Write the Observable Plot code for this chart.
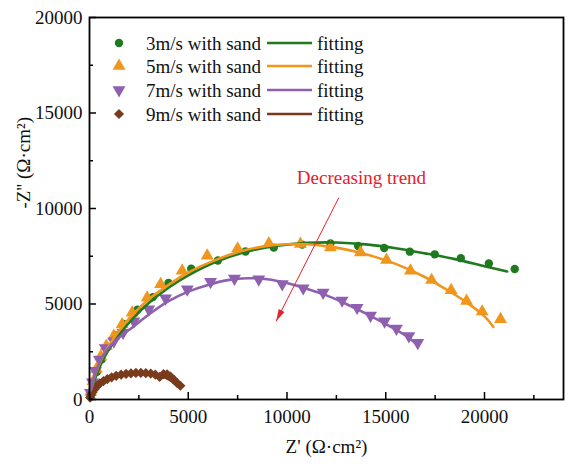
<!DOCTYPE html>
<html>
<head>
<meta charset="utf-8">
<script src="https://cdn.jsdelivr.net/npm/d3@7"></script>
<script src="https://cdn.jsdelivr.net/npm/@observablehq/plot@0.6"></script>
<style>
  html, body { margin: 0; padding: 0; background: #fff; font-family: "Liberation Serif", serif; }
  #wrap { position: relative; width: 581px; height: 472px; }
  #legend { position: absolute; left: 0; top: 0; pointer-events: none; }
</style>
</head>
<body>
<div id="wrap"></div>
<script>
// ---------- data ----------
const seriesNames = ["3m/s with sand", "5m/s with sand", "7m/s with sand", "9m/s with sand"];
const fitLabel = "fitting";
const colors = ["#1f7a1f", "#f0961c", "#9060b0", "#7a3b1c"];

// 3 m/s measured
const x3 = [80, 200, 380, 620, 920, 1300, 1720, 2430, 3210, 4000, 5150, 6500, 7900, 9330, 10770, 12200, 13600, 14920, 16220, 17480, 18800, 20220, 21530];
const y3 = [350, 850, 1450, 2100, 2750, 3350, 3960, 4700, 5360, 6100, 6850, 7280, 7750, 7950, 8110, 8170, 8040, 7930, 7740, 7600, 7400, 7120, 6830];
// 3 m/s fitting
const fx3 = [0, 100, 300, 600, 1000, 1500, 2200, 3000, 4000, 5000, 6500, 8000, 9500, 11000, 12500, 14000, 15500, 17000, 18500, 20000, 21150];
const fy3 = [0, 500, 1150, 1900, 2650, 3400, 4250, 5050, 5850, 6500, 7250, 7750, 8050, 8200, 8220, 8120, 7920, 7650, 7350, 6980, 6700];

// 5 m/s measured
const x5 = [60, 180, 350, 570, 850, 1230, 1650, 2160, 2920, 3600, 4690, 5960, 7500, 9080, 10680, 12200, 13720, 15040, 16250, 17320, 18310, 19090, 19880, 20810];
const y5 = [400, 950, 1600, 2250, 2800, 3320, 3930, 4540, 5330, 6030, 6740, 7530, 7900, 8170, 8140, 7960, 7700, 7300, 6740, 6250, 5720, 5160, 4600, 4200];
// 5 m/s fitting
const fx5 = [0, 100, 300, 600, 1000, 1500, 2200, 3000, 4000, 5000, 6500, 8000, 9500, 11000, 12500, 14000, 15500, 17000, 18000, 19000, 20000, 20450];
const fy5 = [0, 600, 1350, 2100, 2850, 3600, 4450, 5250, 6000, 6650, 7350, 7850, 8100, 8130, 7950, 7600, 7100, 6400, 5800, 5150, 4350, 3800];

// 7 m/s measured
const x7 = [50, 150, 300, 500, 800, 1230, 1700, 2250, 3000, 3850, 4950, 6130, 7340, 8570, 9760, 10820, 11830, 12790, 13550, 14230, 14940, 15540, 16170, 16620];
const y7 = [350, 900, 1500, 2100, 2700, 3050, 3500, 4100, 4720, 5300, 5770, 6160, 6330, 6300, 6050, 5830, 5600, 5190, 4810, 4400, 4100, 3720, 3320, 2970];
// 7 m/s fitting
const fx7 = [0, 100, 300, 600, 1000, 1500, 2200, 3000, 4000, 5000, 6000, 7000, 8000, 9000, 10000, 11000, 12000, 13000, 14000, 15000, 16000, 16550];
const fy7 = [0, 600, 1400, 2150, 2750, 3250, 3800, 4450, 5150, 5650, 6000, 6250, 6350, 6300, 6100, 5800, 5450, 5000, 4500, 3950, 3350, 2900];

// 9 m/s measured
const x9 = [30, 80, 150, 250, 380, 520, 700, 900, 1120, 1350, 1600, 1850, 2100, 2350, 2600, 2850, 3100, 3330, 3550, 3750, 3930, 4100, 4270, 4430, 4600];
const y9 = [100, 230, 380, 540, 700, 840, 960, 1070, 1160, 1240, 1300, 1340, 1370, 1390, 1390, 1380, 1360, 1300, 1180, 1330, 1320, 1200, 1040, 870, 720];
// 9 m/s fitting
const fx9 = [0, 200, 500, 900, 1400, 2000, 2600, 3200, 3700, 4100, 4550];
const fy9 = [0, 450, 800, 1070, 1270, 1370, 1390, 1330, 1200, 1000, 680];

const xMajorTicks = [0, 5000, 10000, 15000, 20000];
const xMinorTicks = [2500, 7500, 12500, 17500, 22500];
const yMajorTicks = [0, 5000, 10000, 15000, 20000];
const yMinorTicks = [2500, 7500, 12500, 17500];
const xTitle = "Z' (Ω·cm²)";
const yTitle = "-Z'' (Ω·cm²)";
const annotation = "Decreasing trend";
const arrowFrom = [12620, 10560];
const arrowTo = [9450, 4100];
const annotationAt = [13770, 11620];

// ---------- build ----------
const measured = [[x3, y3], [x5, y5], [x7, y7], [x9, y9]].map(([xs, ys]) => xs.map((x, i) => ({x, y: ys[i]})));
const fits = [[fx3, fy3], [fx5, fy5], [fx7, fy7], [fx9, fy9]].map(([xs, ys]) => xs.map((x, i) => ({x, y: ys[i]})));

const triangleDown = {
  draw(ctx, size) {
    const y = -Math.sqrt(size / (Math.sqrt(3) * 3));
    ctx.moveTo(0, -2 * y);
    ctx.lineTo(-Math.sqrt(3) * y, y);
    ctx.lineTo(Math.sqrt(3) * y, y);
    ctx.closePath();
  }
};
// arrow head whose tip sits at the origin, pointing up before rotation
const arrowHead = {
  draw(ctx, size) {
    ctx.moveTo(0, 0);
    ctx.lineTo(-3.2, 12);
    ctx.lineTo(3.2, 12);
    ctx.closePath();
  }
};
const symbols = ["circle", "triangle", triangleDown, "diamond2"];
const radii = [4.2, 4.8, 4.8, 4.6];

const W = 581, H = 472, mL = 89, mR = 18, mT = 17, mB = 73;
const frameW = W - mL - mR, frameH = H - mT - mB;
const serif = "Liberation Serif";

const marks = [];
measured.forEach((d, i) => {
  marks.push(Plot.dot(d, {x: "x", y: "y", symbol: symbols[i], r: radii[i], fill: colors[i], stroke: "none"}));
});
fits.forEach((d, i) => {
  marks.push(Plot.line(d, {x: "x", y: "y", stroke: colors[i], strokeWidth: 2.6, curve: "catmull-rom"}));
});

const chart = Plot.plot({
  width: W, height: H,
  marginLeft: mL, marginRight: mR, marginTop: mT, marginBottom: mB,
  style: {fontFamily: serif, fontSize: "19px", color: "#111", background: "#fff"},
  x: {domain: [0, 24000]},
  y: {domain: [0, 20000]},
  marks: [
    ...marks,
    Plot.link([0], {x1: () => arrowFrom[0], y1: () => arrowFrom[1], x2: () => arrowTo[0], y2: () => arrowTo[1], stroke: "#e8202a", strokeWidth: 1}),
    Plot.dot([0], {x: () => arrowTo[0], y: () => arrowTo[1], symbol: arrowHead, r: 5, fill: "#e8202a", stroke: "none", rotate: 207}),
    Plot.text([annotation], {x: () => annotationAt[0], y: () => annotationAt[1], text: d => d, fill: "#e8202a", fontSize: 19}),
    Plot.tickX(xMajorTicks, {x: d => d, insetTop: frameH - 7, stroke: "#000", strokeWidth: 1.5}),
    Plot.tickX(xMinorTicks, {x: d => d, insetTop: frameH - 4, stroke: "#000", strokeWidth: 1.5}),
    Plot.tickY(yMajorTicks, {y: d => d, insetRight: frameW - 7, stroke: "#000", strokeWidth: 1.5}),
    Plot.tickY(yMinorTicks, {y: d => d, insetRight: frameW - 4, stroke: "#000", strokeWidth: 1.5}),
    Plot.axisX({ticks: xMajorTicks, tickSize: 0, tickPadding: 10, tickFormat: d => String(d), label: null, fontSize: 19}),
    Plot.axisY({ticks: yMajorTicks, tickSize: 0, tickPadding: 7, tickFormat: d => String(d), label: null, fontSize: 19}),
    Plot.text([xTitle], {frameAnchor: "bottom", dy: 53, text: d => d, fontSize: 19, fill: "#111"}),
    Plot.text([yTitle], {frameAnchor: "left", dx: -66, rotate: -90, text: d => d, fontSize: 19, fill: "#111"}),
    Plot.frame({stroke: "#000", strokeWidth: 1.8})
  ]
});
document.getElementById("wrap").appendChild(chart);

// ---------- legend overlay ----------
const leg = d3.select("#wrap").append("svg").attr("id", "legend").attr("width", W).attr("height", H);
const rowY = [43, 66, 90, 114];
const d3types = {circle: d3.symbolCircle, triangle: d3.symbolTriangle, diamond2: d3.symbolDiamond2};
seriesNames.forEach((name, i) => {
  const g = leg.append("g");
  g.append("path")
    .attr("d", d3.symbol().type(typeof symbols[i] === "string" ? d3types[symbols[i]] : symbols[i]).size(Math.PI * radii[i] * radii[i])())
    .attr("transform", `translate(119,${rowY[i]})`)
    .attr("fill", colors[i]);
  g.append("text").attr("x", 146).attr("y", rowY[i]).attr("dy", "0.35em")
    .attr("font-size", 19).attr("fill", "#111").text(name);
  g.append("line").attr("x1", 267).attr("x2", 312).attr("y1", rowY[i]).attr("y2", rowY[i])
    .attr("stroke", colors[i]).attr("stroke-width", 2.6);
  g.append("text").attr("x", 317).attr("y", rowY[i]).attr("dy", "0.35em")
    .attr("font-size", 19).attr("fill", "#111").text(fitLabel);
});

// force the serif face on every text element
d3.selectAll("#wrap svg, #wrap svg text")
  .attr("font-family", serif)
  .style("font-family", serif);
</script>
</body>
</html>
